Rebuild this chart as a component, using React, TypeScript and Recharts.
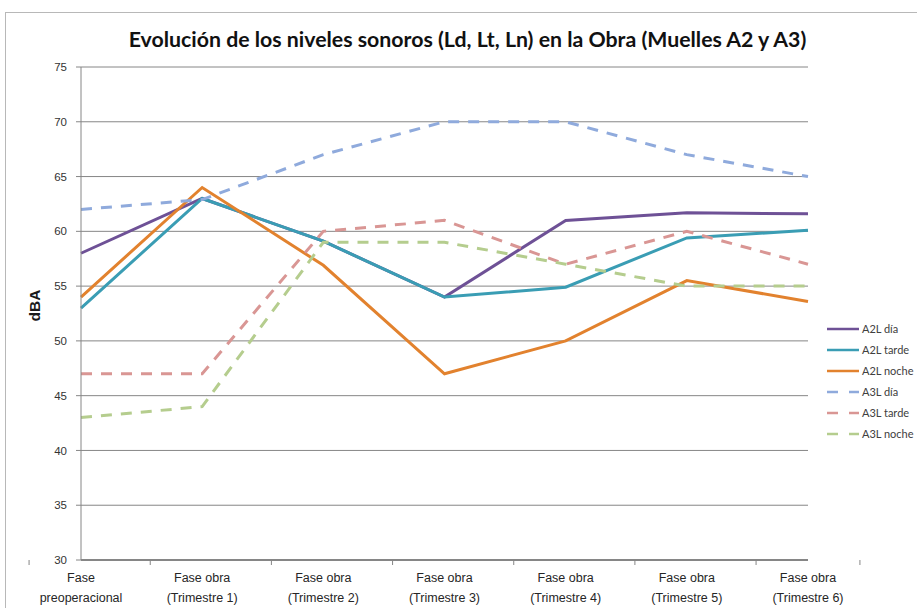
import React from 'react';
import { LineChart, Line, XAxis, YAxis, CartesianGrid } from 'recharts';

const categories = [
  'Fase\npreoperacional',
  'Fase obra\n(Trimestre 1)',
  'Fase obra\n(Trimestre 2)',
  'Fase obra\n(Trimestre 3)',
  'Fase obra\n(Trimestre 4)',
  'Fase obra\n(Trimestre 5)',
  'Fase obra\n(Trimestre 6)',
];

const a2Dia = [58, 63, 59.1, 54, 61, 61.7, 61.6];
const a2Tarde = [53, 63, 59.1, 54, 54.9, 59.4, 60.1];
const a2Noche = [54, 64, 56.9, 47, 50, 55.5, 53.6];
const a3Dia = [62, 62.9, 67, 70, 70, 67, 65];
const a3Tarde = [47, 47, 60, 61, 57, 60, 57];
const a3Noche = [43, 44, 59, 59, 57, 55, 55];

const yTicks = [30, 35, 40, 45, 50, 55, 60, 65, 70, 75];

const title = 'Evolución de los niveles sonoros (Ld, Lt, Ln) en la Obra (Muelles A2 y A3)';
const yLabel = 'dBA';

const seriesDefs = [
  { key: 'a2Dia', name: 'A2L día', color: '#6E5196', dash: undefined },
  { key: 'a2Tarde', name: 'A2L tarde', color: '#3A9DB4', dash: undefined },
  { key: 'a2Noche', name: 'A2L noche', color: '#E2822E', dash: undefined },
  { key: 'a3Dia', name: 'A3L día', color: '#8FAADC', dash: '11 9' },
  { key: 'a3Tarde', name: 'A3L tarde', color: '#D99694', dash: '11 9' },
  { key: 'a3Noche', name: 'A3L noche', color: '#B5CD8E', dash: '11 9' },
];

const data = categories.map((c, i) => ({
  cat: c,
  a2Dia: a2Dia[i],
  a2Tarde: a2Tarde[i],
  a2Noche: a2Noche[i],
  a3Dia: a3Dia[i],
  a3Tarde: a3Tarde[i],
  a3Noche: a3Noche[i],
}));

const W = 917;
const H = 608;
const M = { top: 67, right: 109, bottom: 0, left: 0 };
const Y_AXIS_W = 81;
const X_AXIS_H = 48;
const PLOT_W = W - M.right - Y_AXIS_W;
const HALF_BAND = PLOT_W / categories.length / 2;

const GRID = '#868686';
const CAT_FONT = "'Liberation Sans Narrow', 'Arial Narrow', sans-serif";

const XTick = (props: any) => {
  const { x, y, payload, index } = props;
  const lines = String(payload.value).split('\n');
  const isLast = index === categories.length - 1;
  return (
    <g>
      <line x1={x - HALF_BAND} x2={x - HALF_BAND} y1={y} y2={y + 5} stroke={GRID} strokeWidth={1} />
      {isLast && (
        <line x1={x + HALF_BAND} x2={x + HALF_BAND} y1={y} y2={y + 5} stroke={GRID} strokeWidth={1} />
      )}
      {lines.map((l, i) => (
        <text key={i} x={x} y={y + 22 + i * 20} textAnchor="middle" fontSize={12.5} fill="#262626" fontFamily={CAT_FONT}>
          {l}
        </text>
      ))}
    </g>
  );
};

const YLabel = (props: any) => {
  const vb = props.viewBox || {};
  const cx = (vb.x || 0) + 34;
  const cy = (vb.y || 0) + (vb.height || 0) / 2 - 8;
  return (
    <text x={cx} y={cy} transform={`rotate(-90 ${cx} ${cy})`} textAnchor="middle" dominantBaseline="central" fontSize={15.5} fontWeight="bold" fill="#1a1a1a" fontFamily="'Liberation Sans', Arial, sans-serif">
      {yLabel}
    </text>
  );
};

const LegendBox = () => (
  <div style={{ position: 'absolute', left: 826, top: 318, fontFamily: 'Lato, sans-serif', fontSize: 11, color: '#404040' }}>
    {seriesDefs.map((s) => (
      <div key={s.key} style={{ display: 'flex', alignItems: 'center', height: 21, whiteSpace: 'nowrap' }}>
        <svg width={34} height={6} style={{ marginRight: 2 }}>
          <line x1={1} x2={33} y1={3} y2={3} stroke={s.color} strokeWidth={2.5} strokeDasharray={s.dash ? '11 11' : undefined} />
        </svg>
        <span>{s.name}</span>
      </div>
    ))}
  </div>
);

export default function App() {
  return (
    <div style={{ position: 'absolute', left: 0, top: 0, width: W, height: H, overflow: 'hidden', background: '#fff' }}>
      <div style={{ position: 'absolute', left: 5, top: 12, width: W + 50, height: H + 50, border: '1px solid #b8b8b8', boxSizing: 'border-box' }} />
      <div style={{ position: 'absolute', left: 0, top: 26, width: 935, textAlign: 'center', fontFamily: 'Lato, sans-serif', fontWeight: 'bold', fontSize: 21.3, color: '#111', whiteSpace: 'nowrap' }}>
        {title}
      </div>
      <div style={{ position: 'absolute', left: 0, top: 0 }}>
        <LineChart width={W} height={H} data={data} margin={M}>
          <CartesianGrid vertical={false} stroke={GRID} strokeWidth={1} />
          <XAxis
            dataKey="cat"
            height={X_AXIS_H}
            stroke={GRID}
            strokeWidth={2}
            tickLine={false}
            tickSize={0}
            tickMargin={0}
            interval={0}
            tick={<XTick />}
          />
          <YAxis
            width={Y_AXIS_W}
            domain={[30, 75]}
            ticks={yTicks}
            interval={0}
            stroke={GRID}
            tickSize={5}
            tickMargin={9}
            tick={{ fontSize: 11.5, fill: '#333', fontFamily: "'Liberation Sans', Arial, sans-serif" }}
            label={<YLabel />}
          />
          {seriesDefs.map((s) => (
            <Line
              key={s.key}
              type="linear"
              dataKey={s.key}
              name={s.name}
              stroke={s.color}
              strokeWidth={3}
              strokeDasharray={s.dash}
              dot={false}
              activeDot={false}
              isAnimationActive={false}
            />
          ))}
        </LineChart>
      </div>
      <LegendBox />
    </div>
  );
}
